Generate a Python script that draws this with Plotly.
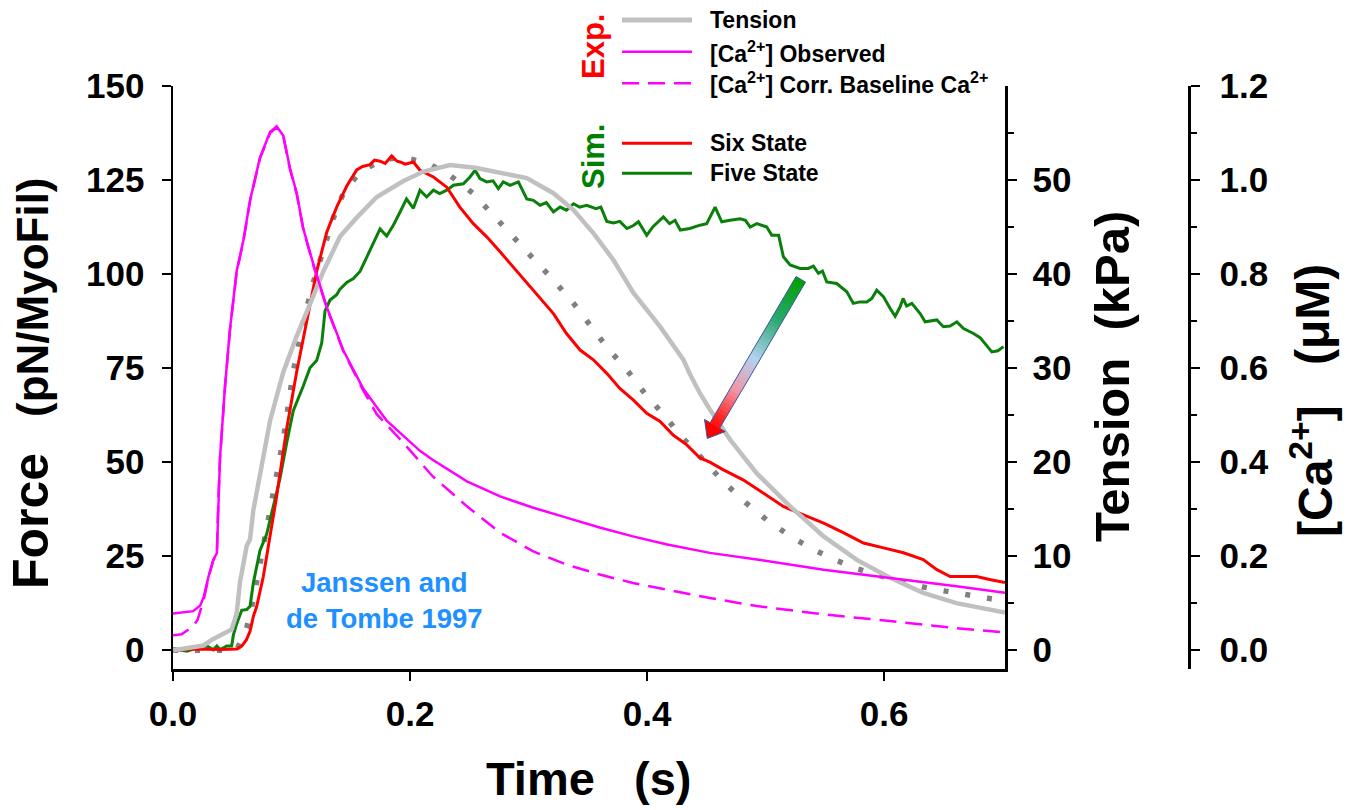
import plotly.graph_objects as go

# ---------------- data ----------------
# [Ca2+] observed (uM)
time_ca_obs = [0, 0.017, 0.023, 0.026, 0.030, 0.034, 0.037, 0.0382, 0.0397, 0.0439, 0.0481,
               0.0537, 0.0594, 0.065, 0.0734, 0.0819, 0.0875, 0.0931, 0.0987, 0.1044, 0.110,
               0.1184, 0.1297, 0.1437, 0.1606, 0.1803, 0.1916, 0.2084, 0.219, 0.248, 0.276,
               0.304, 0.332, 0.360, 0.388, 0.417, 0.453, 0.4926, 0.549, 0.605, 0.661, 0.702]
ca_obs_uM = [0.078, 0.083, 0.095, 0.114, 0.157, 0.193, 0.206, 0.320, 0.411, 0.562, 0.684,
             0.806, 0.872, 0.957, 1.048, 1.102, 1.114, 1.094, 1.025, 0.972, 0.896,
             0.821, 0.730, 0.638, 0.556, 0.488, 0.462, 0.424, 0.405, 0.359, 0.327,
             0.303, 0.282, 0.261, 0.242, 0.225, 0.207, 0.193, 0.171, 0.154, 0.136, 0.122]

# [Ca2+] corrected for baseline Ca2+ (uM)
time_ca_corr = [0, 0.0073, 0.0171, 0.0208, 0.026, 0.030, 0.034, 0.037, 0.0382, 0.0397, 0.0439,
                0.0481, 0.0537, 0.0594, 0.065, 0.0734, 0.0819, 0.0875, 0.0931, 0.0987, 0.1044,
                0.110, 0.1184, 0.1297, 0.1437, 0.1606, 0.1719, 0.1803, 0.1944, 0.219, 0.248,
                0.276, 0.304, 0.332, 0.360, 0.388, 0.417, 0.453, 0.4926, 0.549, 0.605, 0.661, 0.702]
ca_corr_uM = [0.032, 0.034, 0.051, 0.065, 0.108, 0.155, 0.191, 0.204, 0.318, 0.409, 0.560,
              0.682, 0.804, 0.870, 0.955, 1.046, 1.100, 1.112, 1.092, 1.023, 0.970,
              0.894, 0.819, 0.728, 0.636, 0.552, 0.502, 0.479, 0.441, 0.370, 0.306,
              0.250, 0.210, 0.182, 0.161, 0.143, 0.129, 0.111, 0.094, 0.076, 0.062, 0.047, 0.038]

# Experimental tension (kPa)
time_tension = [0, 0.0256, 0.034, 0.0495, 0.0537, 0.0565, 0.0622, 0.065, 0.0678, 0.0734, 0.0819,
                0.0931, 0.1044, 0.1156, 0.1269, 0.1409, 0.155, 0.1719, 0.1944, 0.2113, 0.2338,
                0.255, 0.276, 0.2985, 0.321, 0.338, 0.355, 0.3716, 0.3885, 0.411, 0.4306,
                0.436, 0.4447, 0.453, 0.470, 0.4926, 0.5207, 0.549, 0.577, 0.605, 0.633, 0.661, 0.702]
tension_kPa = [0, 0.5, 1.2, 2.2, 3.9, 7.2, 11.1, 11.8, 14.9, 18.6, 24.4,
               29.6, 33.4, 36.8, 40.3, 44.0, 46.0, 48.2, 49.9, 50.9, 51.6,
               51.3, 50.8, 50.2, 48.6, 46.8, 44.3, 41.5, 38.0, 34.4, 30.9,
               29.4, 27.3, 25.6, 22.4, 18.8, 15.3, 12.1, 9.6, 7.7, 6.1, 5.0, 4.0]

# Dotted gray curve (pN/MyoFil)
time_fit = [0, 0.0537, 0.0565, 0.0622, 0.0678, 0.0762, 0.0847, 0.0931, 0.1015, 0.110, 0.1184,
            0.1269, 0.1353, 0.1437, 0.1578, 0.1775, 0.1944, 0.2141, 0.2338, 0.2534, 0.270,
            0.287, 0.304, 0.321, 0.338, 0.352, 0.367, 0.383, 0.398, 0.414, 0.429,
            0.446, 0.464, 0.483, 0.5015, 0.521, 0.5395, 0.558, 0.577, 0.596, 0.614,
            0.633, 0.652, 0.671, 0.690, 0.702]
force_fit_pN = [0, 0, 2.0, 5.9, 13.5, 27.7, 41.9, 56.1, 74.1, 87.4, 97.8,
                106.3, 114.9, 121.5, 127.2, 130.5, 131.0, 129.6, 126.2, 121.4, 115.9,
                109.9, 104.1, 98.4, 92.2, 86.4, 80.2, 74.5, 68.3, 62.6, 56.8,
                51.1, 44.9, 39.3, 34.5, 30.3, 26.9, 24.1, 21.7, 19.8, 18.3,
                16.8, 15.7, 14.6, 13.7, 13.2]

# Simulation: Six State (pN/MyoFil)
time_six = [0, 0.02, 0.04, 0.054, 0.058, 0.062, 0.065, 0.0678, 0.0706, 0.0762, 0.079,
            0.0875, 0.0959, 0.1044, 0.1128, 0.1212, 0.1297, 0.1381, 0.1466, 0.155, 0.160,
            0.1662, 0.170, 0.1747, 0.179, 0.1845, 0.189, 0.1916, 0.196, 0.2028, 0.2084,
            0.2197, 0.231, 0.242, 0.2534, 0.2647, 0.276, 0.287, 0.2985, 0.3097, 0.321,
            0.332, 0.3435, 0.3547, 0.366, 0.377, 0.3885, 0.3997, 0.411, 0.422, 0.4335,
            0.4447, 0.453, 0.464, 0.481, 0.498, 0.515, 0.532, 0.549, 0.566, 0.5826,
            0.5995, 0.6163, 0.633, 0.6445, 0.6557, 0.667, 0.678, 0.689, 0.702]
force_six_pN = [0, 0.3, 0.2, 0.3, 1.1, 2.8, 5.0, 9.0, 11.6, 19.6, 24.9,
                41.0, 58.9, 74.1, 87.4, 100.7, 111.1, 117.8, 123.4, 127.7, 128.6,
                129.1, 130.3, 130.0, 129.4, 131.4, 130.0, 129.8, 129.2, 129.8, 127.6,
                125.8, 123.1, 117.8, 113.4, 109.9, 105.9, 101.9, 97.5, 93.5, 89.5,
                84.2, 79.8, 77.2, 73.6, 69.6, 66.5, 63.0, 60.8, 57.2, 54.6,
                51.1, 50.0, 48.0, 45.3, 41.8, 38.2, 36.0, 33.8, 31.2, 28.5,
                27.2, 25.9, 24.1, 21.4, 19.6, 19.5, 19.6, 18.8, 18.0]

# Simulation: Five State (pN/MyoFil)
time_five = [0, 0.0118, 0.0231, 0.0287, 0.034, 0.037, 0.0397, 0.0453, 0.0495, 0.0509, 0.0537,
             0.058, 0.0622, 0.065, 0.0678, 0.0734, 0.079, 0.0847, 0.0903, 0.0959, 0.1015,
             0.110, 0.1156, 0.1212, 0.1255, 0.1283, 0.1325, 0.1381, 0.1409, 0.1466, 0.1522,
             0.1578, 0.1634, 0.169, 0.1747, 0.1803, 0.1859, 0.1916, 0.197, 0.2028, 0.2084,
             0.214, 0.2197, 0.225, 0.231, 0.2366, 0.245, 0.2506, 0.2549, 0.259, 0.2647,
             0.270, 0.2745, 0.2787, 0.2844, 0.2914, 0.2985, 0.304, 0.3097, 0.315, 0.321,
             0.3266, 0.332, 0.338, 0.343, 0.349, 0.357, 0.361, 0.366, 0.3716, 0.377,
             0.383, 0.3885, 0.3927, 0.3997, 0.405, 0.4138, 0.419, 0.4236, 0.428, 0.436,
             0.4447, 0.4503, 0.4574, 0.463, 0.470, 0.4785, 0.483, 0.487, 0.4926, 0.501,
             0.5052, 0.511, 0.515, 0.5207, 0.529, 0.536, 0.5403, 0.5446, 0.548, 0.5516,
             0.560, 0.5685, 0.574, 0.5797, 0.5854, 0.5896, 0.5938, 0.5994, 0.605, 0.6093,
             0.6135, 0.616, 0.619, 0.6234, 0.6304, 0.6346, 0.6445, 0.650, 0.6557, 0.6614,
             0.667, 0.6754, 0.681, 0.6866, 0.6909, 0.696, 0.7007]
force_five_pN = [0.4, -0.3, 0.9, 1.1, 0.1, 1.1, 0.1, 1.1, 1.1, 4.0, 7.0,
                 10.6, 10.8, 11.7, 17.9, 26.5, 30.8, 38.1, 45.7, 55.1, 63.7,
                 70.3, 75.1, 77.0, 81.7, 90.2, 93.1, 94.5, 96.0, 97.8, 98.8,
                 100.7, 104.5, 108.2, 112.0, 110.1, 113.0, 116.5, 120.0, 117.5, 122.3,
                 120.5, 122.3, 121.4, 122.3, 123.6, 124.0, 125.8, 127.6, 125.4, 124.5,
                 124.8, 122.7, 124.5, 123.6, 124.5, 120.0, 119.6, 118.3, 119.0, 116.5,
                 117.8, 117.0, 118.7, 117.8, 118.3, 117.4, 117.8, 114.0, 113.6, 114.0,
                 112.1, 112.9, 113.9, 110.3, 112.6, 115.2, 113.4, 114.3, 111.7, 112.1,
                 113.0, 113.4, 117.8, 113.9, 114.3, 114.7, 114.3, 112.5, 113.4, 112.5,
                 110.3, 110.3, 104.6, 102.4, 101.5, 101.5, 102.1, 100.2, 100.8, 97.9,
                 97.5, 95.3, 92.2, 92.6, 92.6, 93.5, 95.7, 94.0, 90.9, 88.8,
                 91.3, 93.5, 91.5, 92.2, 89.5, 87.3, 87.8, 86.0, 86.2, 87.3,
                 85.5, 84.2, 83.1, 81.1, 79.3, 79.6, 80.7]

# Tick labels
x_tickvals = [0, 0.2, 0.4, 0.6]
x_ticktext = ["0.0", "0.2", "0.4", "0.6"]
force_tickvals = [0, 25, 50, 75, 100, 125, 150]
tension_tickvals = [0, 10, 20, 30, 40, 50]
tension_minor = [5, 15, 25, 35, 45, 55]
ca_tickvals = [0, 0.2, 0.4, 0.6, 0.8, 1.0, 1.2]
ca_ticktext = ["0.0", "0.2", "0.4", "0.6", "0.8", "1.0", "1.2"]
ca_minor = [0.1, 0.3, 0.5, 0.7, 0.9, 1.1]

# Arrow (data coordinates: time s, force pN)
ARROW_TAIL = (0.5297, 98.6)
ARROW_TIP = (0.4508, 56.3)

# ---------------- layout geometry ----------------
# body margin is removed by a small post-script, so figure px == page px
PAGE_OFF = 0
FONT = "Liberation Sans, Arial, Helvetica, sans-serif"
W, H = 1351 - PAGE_OFF, 810 - PAGE_OFF
# plot area in page pixels
LEFT_PX, TOP_PX, BOTTOM_PX, RIGHT_AXIS_PX, CA_AXIS_PX = 173, 86, 669, 1005, 1189
ML = LEFT_PX - PAGE_OFF
MT = TOP_PX - PAGE_OFF
MB = H - (BOTTOM_PX - PAGE_OFF)
MR = W - (CA_AXIS_PX - PAGE_OFF)
PW = W - ML - MR
PH = H - MT - MB
XDOM = (RIGHT_AXIS_PX - LEFT_PX) / PW

X_RANGE = [0, 0.702]
Y_RANGE = [-5, 150]
T_RANGE = [-2, 60]
C_RANGE = [-0.04, 1.2]

SX = (RIGHT_AXIS_PX - LEFT_PX) / (X_RANGE[1] - X_RANGE[0])
SY = PH / (Y_RANGE[1] - Y_RANGE[0])


def px_x(px):  # page px -> paper x
    return (px - LEFT_PX) / PW


def px_y(py):  # page px -> paper y
    return (BOTTOM_PX - py) / PH


def d2px(t, f):
    return LEFT_PX + (t - X_RANGE[0]) * SX, BOTTOM_PX - (f - Y_RANGE[0]) * SY


def px2d(x, y):
    return X_RANGE[0] + (x - LEFT_PX) / SX, Y_RANGE[0] + (BOTTOM_PX - y) / SY


GRAY = "#c0c0c0"
MAGENTA = "#ff00ff"
RED = "#ff0000"
GREEN = "#0a800a"
DOTGRAY = "#808080"

fig = go.Figure()

fig.add_trace(go.Scatter(x=time_tension, y=tension_kPa, yaxis="y2", mode="lines",
                         line=dict(color=GRAY, width=4.5), hoverinfo="skip", showlegend=False))
fig.add_trace(go.Scatter(x=time_ca_obs, y=ca_obs_uM, yaxis="y3", mode="lines",
                         line=dict(color=MAGENTA, width=2.5), hoverinfo="skip", showlegend=False))
fig.add_trace(go.Scatter(x=time_ca_corr, y=ca_corr_uM, yaxis="y3", mode="lines",
                         line=dict(color=MAGENTA, width=2.5, dash="17px,9px"),
                         hoverinfo="skip", showlegend=False))
fig.add_trace(go.Scatter(x=time_fit, y=force_fit_pN, mode="lines",
                         line=dict(color=DOTGRAY, width=5.5, dash="5px,17px"),
                         hoverinfo="skip", showlegend=False))
fig.add_trace(go.Scatter(x=time_five, y=force_five_pN, mode="lines",
                         line=dict(color=GREEN, width=3), hoverinfo="skip", showlegend=False))
fig.add_trace(go.Scatter(x=time_six, y=force_six_pN, mode="lines",
                         line=dict(color=RED, width=3), hoverinfo="skip", showlegend=False))

shapes = []
annotations = []

# ---------------- gradient arrow ----------------
def lerp_color(stops, s):
    for (s0, c0), (s1, c1) in zip(stops[:-1], stops[1:]):
        if s0 <= s <= s1:
            f = (s - s0) / (s1 - s0) if s1 > s0 else 0
            r = round(c0[0] + (c1[0] - c0[0]) * f)
            g = round(c0[1] + (c1[1] - c0[1]) * f)
            b = round(c0[2] + (c1[2] - c0[2]) * f)
            return f"rgb({r},{g},{b})"
    c = stops[-1][1]
    return f"rgb({c[0]},{c[1]},{c[2]})"


ARROW_STOPS = [(0.0, (0, 160, 0)), (0.25, (40, 168, 110)), (0.5, (180, 210, 240)),
               (0.7, (240, 150, 165)), (0.88, (255, 30, 30)), (1.0, (255, 0, 0))]
tx, ty = d2px(*ARROW_TAIL)
qx, qy = d2px(*ARROW_TIP)
L = ((qx - tx) ** 2 + (qy - ty) ** 2) ** 0.5
ux, uy = (qx - tx) / L, (qy - ty) / L
nx, ny = -uy, ux
HW = 5.5      # shaft half width (px)
HH = 12.0     # head half width (px)
HL = 15.0     # head length (px)
hx, hy = qx - HL * ux, qy - HL * uy
shaft_len = L - HL


def path_from_px(pts):
    segs = []
    for i, (x, y) in enumerate(pts):
        dx, dy = px2d(x, y)
        segs.append(("M" if i == 0 else "L") + f"{dx:.5f},{dy:.4f}")
    return " ".join(segs) + " Z"


NSLICE = 40
for i in range(NSLICE):
    a0 = shaft_len * i / NSLICE
    a1 = min(shaft_len * (i + 1) / NSLICE + 0.8, shaft_len + 0.5)
    p0 = (tx + a0 * ux, ty + a0 * uy)
    p1 = (tx + a1 * ux, ty + a1 * uy)
    pts = [(p0[0] + HW * nx, p0[1] + HW * ny), (p1[0] + HW * nx, p1[1] + HW * ny),
           (p1[0] - HW * nx, p1[1] - HW * ny), (p0[0] - HW * nx, p0[1] - HW * ny)]
    col = lerp_color(ARROW_STOPS, (a0 + a1) / 2 / L)
    shapes.append(dict(type="path", xref="x", yref="y", path=path_from_px(pts),
                       fillcolor=col, line=dict(width=0), layer="above"))
head = [(hx + HH * nx, hy + HH * ny), (qx, qy), (hx - HH * nx, hy - HH * ny)]
shapes.append(dict(type="path", xref="x", yref="y", path=path_from_px(head),
                   fillcolor=RED, line=dict(width=0), layer="above"))
outline = [(tx + HW * nx, ty + HW * ny), (hx + HW * nx, hy + HW * ny),
           (hx + HH * nx, hy + HH * ny), (qx, qy), (hx - HH * nx, hy - HH * ny),
           (hx - HW * nx, hy - HW * ny), (tx - HW * nx, ty - HW * ny)]
shapes.append(dict(type="path", xref="x", yref="y", path=path_from_px(outline),
                   fillcolor="rgba(0,0,0,0)", line=dict(color="#3a5a9a", width=1),
                   layer="above"))

# ---------------- manual legend ----------------
LEG_X0, LEG_X1, LEG_TX = 622, 692, 708
legend_rows = [
    (20, GRAY, 5, "solid", "Tension"),
    (51.7, MAGENTA, 2.5, "solid", "[Ca<sup>2+</sup>] Observed"),
    (83.3, MAGENTA, 2.5, "17px,9px", "[Ca<sup>2+</sup>] Corr. Baseline Ca<sup>2+</sup>"),
    (143.3, RED, 3, "solid", "Six State"),
    (173.3, GREEN, 3, "solid", "Five State"),
]
for yy, col, wd, dash, label in legend_rows:
    shapes.append(dict(type="line", xref="paper", yref="paper",
                       x0=px_x(LEG_X0), x1=px_x(LEG_X1), y0=px_y(yy), y1=px_y(yy),
                       line=dict(color=col, width=wd, dash=dash)))
    annotations.append(dict(xref="paper", yref="paper", x=px_x(LEG_TX), y=px_y(yy),
                            xanchor="left", yanchor="middle", showarrow=False, text=label,
                            font=dict(family=FONT, size=23, color="black", weight="bold")))


def rot_text(text, xc, yc, size, color="black"):
    annotations.append(dict(xref="paper", yref="paper", x=px_x(xc), y=px_y(yc),
                            text=text, textangle=-90, showarrow=False,
                            xanchor="center", yanchor="middle", borderpad=0,
                            font=dict(family=FONT, size=size, color=color, weight="bold")))


rot_text("Exp.", 593, 47, 31, RED)
rot_text("Sim.", 593, 157, 31, "#008000")

annotations.append(dict(xref="paper", yref="paper", x=px_x(384), y=px_y(600),
                        text="Janssen and<br>de Tombe 1997", showarrow=False,
                        xanchor="center", yanchor="middle", align="center",
                        font=dict(family=FONT, size=27.5, color="#1E90FF", weight="bold")))

# ---------------- axis titles ----------------
rot_text("Force", 31, 521, 50)
rot_text("(pN/MyoFil)", 32, 297, 44)
rot_text("Tension\u00a0 (kPa)", 1112, 377, 49)
rot_text("(\u03bcM)", 1312, 315, 48)
rot_text("[Ca<sup>2+</sup>]", 1312, 471, 48)
annotations.append(dict(xref="paper", yref="paper", x=px_x(588), y=px_y(778),
                        text="Time\u00a0\u00a0 (s)", showarrow=False,
                        xanchor="center", yanchor="middle", borderpad=0,
                        font=dict(family=FONT, size=47, color="black", weight="bold")))

TICKFONT = dict(family=FONT, size=35, color="black", weight="bold")
axis_common = dict(showline=True, linecolor="black", linewidth=2.5, ticks="outside",
                   ticklen=9, tickwidth=2.5, tickcolor="black", showgrid=False,
                   zeroline=False, tickfont=TICKFONT, fixedrange=True)

fig.update_layout(
    width=W, height=H,
    margin=dict(l=ML, r=MR, t=MT, b=MB, pad=0, autoexpand=False),
    paper_bgcolor="white", plot_bgcolor="white",
    showlegend=False,
    xaxis=dict(domain=[0, XDOM], range=X_RANGE, tickvals=x_tickvals, ticktext=x_ticktext,
               ticklabelstandoff=3, **axis_common),
    yaxis=dict(domain=[0, 1], range=Y_RANGE, tickvals=force_tickvals,
               ticklabelstandoff=10, **axis_common),
    yaxis2=dict(overlaying="y", side="right", anchor="x", range=T_RANGE,
                tickvals=tension_tickvals, ticklabelstandoff=9,
                minor=dict(tickvals=tension_minor, ticklen=6, tickwidth=2.5,
                           tickcolor="black", ticks="outside"),
                **axis_common),
    yaxis3=dict(overlaying="y", side="right", anchor="free", position=1.0, range=C_RANGE,
                tickvals=ca_tickvals, ticktext=ca_ticktext, ticklabelstandoff=13,
                minor=dict(tickvals=ca_minor, ticklen=6, tickwidth=2.5,
                           tickcolor="black", ticks="outside"),
                **axis_common),
    shapes=shapes,
    annotations=annotations,
)

fig.write_html(
    "out.html",
    config={"displayModeBar": False, "staticPlot": True},
    post_script="document.body.style.margin='0px';document.body.style.overflow='hidden';",
)
